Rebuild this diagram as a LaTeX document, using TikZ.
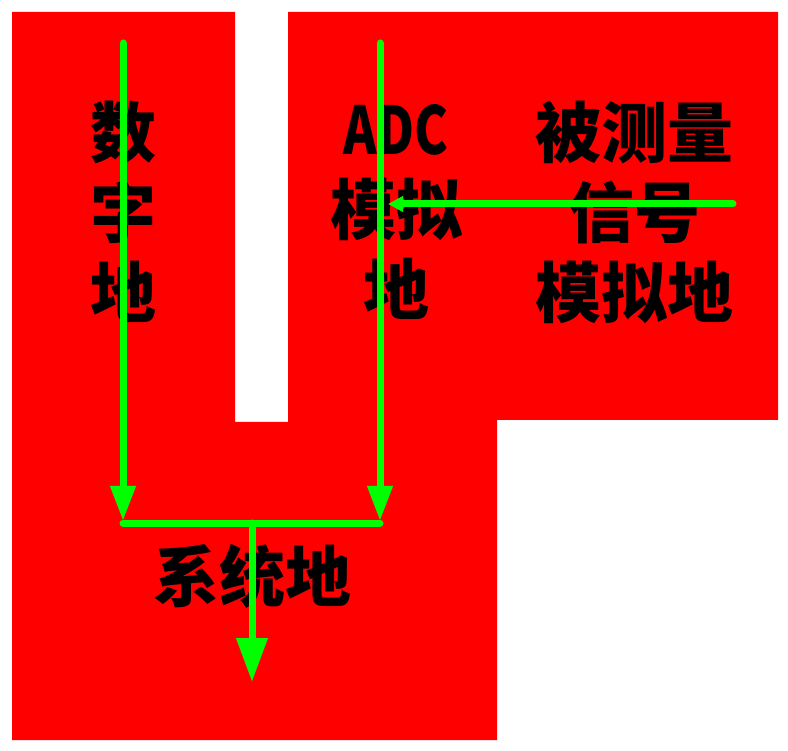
\documentclass[tikz,border=0pt]{standalone}
\usepackage{fontspec}
\usepackage{graphicx}
\usetikzlibrary{arrows.meta}
\newfontfamily\cjk{Noto Sans CJK SC}
\definecolor{grn}{RGB}{0,255,0}
\definecolor{rd}{RGB}{255,0,0}
\begin{document}
\begin{tikzpicture}[x=1pt,y=-1pt,
  lbl/.style={font=\cjk\bfseries\fontsize{66}{80}\selectfont, align=center, inner sep=0pt, text=black},
  wire/.style={draw=grn, line width=7pt, line cap=round},
  bigtip/.style={-{Triangle[length=35pt,width=24pt]}},
  outtip/.style={-{Triangle[length=44pt,width=30pt]}},
  smalltip/.style={-{Triangle[length=15pt,width=15pt]}}]
\useasboundingbox (0,0) rectangle (788,751);
\fill[rd] (12,12) -- (235,12) -- (235,422) -- (288,422) -- (288,12) -- (778,12)
  -- (778,420) -- (497,420) -- (497,740) -- (12,740) -- cycle;
\node[lbl] (dig) at (123,212) {数\\字\\地};
\node[lbl] (adc) at (396,212) {\scalebox{0.77}[1]{ADC}\\模拟\\地};
\node[lbl] (sig) at (634,212) {被测量\\信号\\模拟地};
\node[lbl] (sys) at (252,576) {系统地};
\coordinate (dtop) at (123,43);
\coordinate (dbot) at (123,521);
\coordinate (atop) at (380,43);
\coordinate (abot) at (380,521);
\coordinate (jl) at (123,523);
\coordinate (jr) at (380,523);
\coordinate (jm) at (252,523);
\coordinate (out) at (252,682);
\coordinate (sr) at (733,204);
\coordinate (sl) at (388,204);
\draw[wire,bigtip] (dtop) -- (dbot);
\draw[wire,bigtip] (atop) -- (abot);
\draw[wire] (jl) -- (jr);
\draw[wire,outtip] (jm) -- (out);
\draw[wire,smalltip] (sr) -- (sl);
\end{tikzpicture}
\end{document}
